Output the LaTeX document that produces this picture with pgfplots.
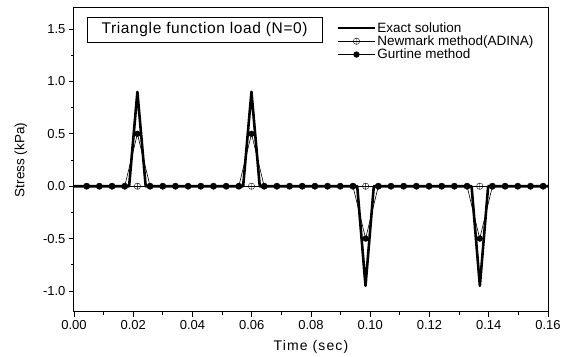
\documentclass[border=0pt]{standalone}
\usepackage{pgfplots}
\pgfplotsset{compat=1.18}
\usepackage{fontspec}
\setmainfont{Liberation Sans}
\begin{document}
\begin{tikzpicture}[x=1pt,y=1pt]
\useasboundingbox (-74,-44) rectangle (496,312);
\begin{axis}[
  at={(0,0)}, anchor=south west,
  scale only axis, width=474pt, height=304pt,
  xmin=0, xmax=0.16, ymin=-1.2, ymax=1.7,
  xtick={0,0.02,0.04,0.06,0.08,0.10,0.12,0.14,0.16},
  xticklabels={0.00,0.02,0.04,0.06,0.08,0.10,0.12,0.14,0.16},
  ytick={-1,-0.5,0,0.5,1,1.5},
  yticklabels={-1.0,-0.5,0.0,0.5,1.0,1.5},
  minor x tick num=1, minor y tick num=1,
  tick align=outside, tick pos=left,
  major tick length=5pt, minor tick length=3pt,
  every tick/.style={black, line width=0.8pt},
  axis line style={line width=1pt},
  tick label style={font=\fontsize{13}{15}\selectfont},
  scaled x ticks=false,
  xlabel={Time (sec)},
  xlabel style={at={(axis description cs:0.5,0)}, anchor=center, yshift=-35pt, font=\fontsize{14}{16}\selectfont\addfontfeature{LetterSpace=8}},
  legend style={draw=none, fill=none, at={(0.548,0.965)}, anchor=north west,
    font=\fontsize{13.5}{15}\selectfont, row sep=-1pt,
    nodes={inner sep=1.5pt}},
  legend cell align=left,
  legend image code/.code={\draw[mark repeat=2,mark phase=2,#1] plot coordinates {(0pt,0pt) (18.5pt,0pt) (37pt,0pt)};},
  clip=false,
]
\addplot[black, line width=2.6pt, line join=round,
  legend image post style={line width=2pt}] coordinates {
  (0,0) (0.0186,0) (0.0214,0.90) (0.0242,0)
  (0.0571,0) (0.0599,0.90) (0.0627,0)
  (0.0956,0) (0.0984,-0.95) (0.1012,0)
  (0.1342,0) (0.1370,-0.95) (0.1398,0) (0.16,0)
};
\addlegendentry{Exact solution}
\addplot[black, line width=0.4pt, mark=oplus, mark size=3.2pt,
  mark options={fill=white, line width=0.4pt}] coordinates {
  (0.00428,0) (0.00856,0) (0.01284,0) (0.01712,0) (0.0214,0) (0.02568,0)
  (0.02996,0) (0.03424,0) (0.03852,0) (0.0428,0) (0.04708,0) (0.05136,0)
  (0.05564,0) (0.05992,0) (0.0642,0) (0.06848,0) (0.07276,0) (0.07704,0)
  (0.08132,0) (0.0856,0) (0.08988,0) (0.09416,0) (0.09844,0) (0.10272,0)
  (0.107,0) (0.11128,0) (0.11556,0) (0.11984,0) (0.12412,0) (0.1284,0)
  (0.13268,0) (0.13696,0) (0.14124,0) (0.14552,0) (0.1498,0) (0.15408,0)
  (0.15836,0)
};
\addlegendentry{Newmark method(ADINA)}
\addplot[black, line width=0.6pt, mark=*, mark size=2.8pt] coordinates {
  (0.00428,0) (0.00856,0) (0.01284,0) (0.01712,0) (0.0214,0.5) (0.02568,0)
  (0.02996,0) (0.03424,0) (0.03852,0) (0.0428,0) (0.04708,0) (0.05136,0)
  (0.05564,0) (0.05992,0.5) (0.0642,0) (0.06848,0) (0.07276,0) (0.07704,0)
  (0.08132,0) (0.0856,0) (0.08988,0) (0.09416,0) (0.09844,-0.5) (0.10272,0)
  (0.107,0) (0.11128,0) (0.11556,0) (0.11984,0) (0.12412,0) (0.1284,0)
  (0.13268,0) (0.13696,-0.5) (0.14124,0) (0.14552,0) (0.1498,0) (0.15408,0)
  (0.15836,0)
};
\addlegendentry{Gurtine method}
\node[draw, line width=0.8pt, minimum width=235pt, minimum height=25pt,
  font=\fontsize{15.5}{17}\selectfont\addfontfeature{LetterSpace=4}]
  at (axis cs:0.0441,1.493) {Triangle function load (N=0)};
\node[rotate=90, anchor=center, font=\fontsize{13.5}{15}\selectfont]
  at ([xshift=-53pt]axis description cs:0,0.5) {Stress (kPa)};
\end{axis}
\end{tikzpicture}
\end{document}
